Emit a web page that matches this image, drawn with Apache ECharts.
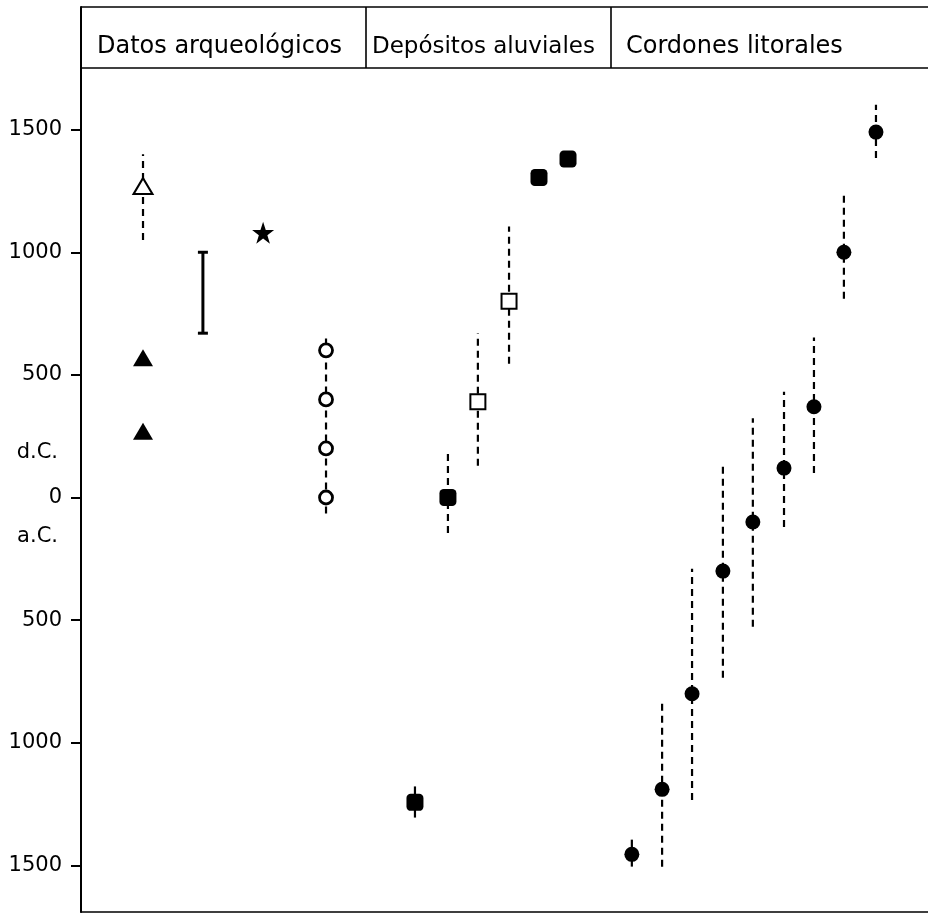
<!DOCTYPE html>
<html><head><meta charset="utf-8">
<script src="https://cdn.jsdelivr.net/npm/echarts@6/dist/echarts.min.js"></script>
<style>html,body{margin:0;padding:0;background:#fff}#c{width:928px;height:923px}</style>
</head><body><div id="c"></div>
<script>
// ---- data (x = column slot, y = year; negative = a.C.) ----
const headerLabels = ['Datos arqueológicos', 'Depósitos aluviales', 'Cordones litorales'];
const headerBounds = [0, 9.42, 17.52, 28.0];
const headerBottom = 1751;
const headerTop = 2000;
const yTickValues = [1500, 1000, 500, 0, -500, -1000, -1500];
const eraLabels = [{ value: 185, text: 'd.C.' }, { value: -161, text: 'a.C.' }];

const openTriangles = [[2.05, 1270]];
const filledTriangles = [[2.05, 570], [2.05, 270]];
const stars = [[6.02, 1080]];
const openCircles = [[8.1, 600], [8.1, 400], [8.1, 200], [8.1, 0]];
const filledSquares = [[11.04, -1243], [12.13, 0], [15.14, 1305], [16.1, 1380]];
const openSquares = [[13.12, 390], [14.15, 800]];
const filledCircles = [[18.21, -1455], [19.21, -1190], [20.2, -800], [21.22, -300], [22.21, -100],
  [23.24, 120], [24.23, 370], [25.22, 1000], [26.28, 1490]];
const dashedRanges = [[2.05, 1050, 1400], [8.1, -65, 665], [12.13, -145, 180], [13.12, 130, 670],
  [14.15, 545, 1105], [19.21, -1505, -826], [20.2, -1233, -290], [21.22, -735, 140],
  [22.21, -527, 323], [23.24, -120, 431], [24.23, 100, 652], [25.22, 810, 1245], [26.28, 1384, 1601]];
const solidRanges = [[11.04, -1305, -1178], [18.21, -1505, -1395]];
const cappedRanges = [[4.03, 670, 1000]];

const FONT = 'DejaVu Sans';
const chart = echarts.init(document.getElementById('c'));

function rangeRenderer(dashed, capped) {
  return function (params, api) {
    const x = api.value(0), lo = api.value(1), hi = api.value(2);
    const p1 = api.coord([x, lo]), p2 = api.coord([x, hi]);
    const st = { stroke: '#000', lineWidth: capped ? 3 : 2.2, lineDash: dashed ? [7, 5] : null };
    const children = [{ type: 'line', shape: { x1: p1[0], y1: p1[1], x2: p2[0], y2: p2[1] }, style: st }];
    if (capped) {
      children.push({ type: 'line', shape: { x1: p1[0] - 5, y1: p1[1], x2: p1[0] + 5, y2: p1[1] }, style: st });
      children.push({ type: 'line', shape: { x1: p2[0] - 5, y1: p2[1], x2: p2[0] + 5, y2: p2[1] }, style: st });
    }
    return { type: 'group', children };
  };
}

const headerAreas = headerLabels.map((name, i) => [
  { name, xAxis: headerBounds[i], yAxis: headerBottom,
    label: { distance: [16, 6, 15][i], fontSize: [24, 23, 24][i] } },
  { xAxis: headerBounds[i + 1], yAxis: headerTop }
]);
const headerLines = [
  [{ xAxis: headerBounds[0], yAxis: headerBottom }, { xAxis: headerBounds[3], yAxis: headerBottom }],
  [{ xAxis: headerBounds[0], yAxis: headerTop }, { xAxis: headerBounds[3], yAxis: headerTop }],
  [{ xAxis: headerBounds[1], yAxis: headerBottom }, { xAxis: headerBounds[1], yAxis: headerTop }],
  [{ xAxis: headerBounds[2], yAxis: headerBottom }, { xAxis: headerBounds[2], yAxis: headerTop }]
];

const starPath = 'path://M50,0 L61.8,35.3 L99,35.3 L69,57.3 L80.4,92.7 L50,70.8 L19.6,92.7 L31,57.3 L1,35.3 L38.2,35.3 Z';

const option = {
  animation: false,
  backgroundColor: '#fff',
  grid: { left: 81, right: 0, top: 7, bottom: 11 },
  xAxis: {
    type: 'value', min: 0, max: headerBounds[3],
    axisLine: { show: true, onZero: false, lineStyle: { color: '#000', width: 1.5 } },
    axisTick: { show: false }, axisLabel: { show: false }, splitLine: { show: false }
  },
  yAxis: {
    type: 'value', min: -1690, max: headerTop,
    axisLine: { show: true, lineStyle: { color: '#000', width: 2 } },
    axisTick: { show: true, inside: false, length: 10, customValues: yTickValues,
      lineStyle: { color: '#000', width: 2 } },
    axisLabel: {
      show: true, margin: 19, color: '#000', fontFamily: FONT, fontSize: 21,
      customValues: yTickValues.concat(eraLabels.map(e => e.value)),
      formatter: function (v) {
        const e = eraLabels.find(e => e.value === v);
        if (e) return '{era|' + e.text + '}';
        return String(Math.abs(v));
      },
      rich: { era: { fontFamily: FONT, fontSize: 21, color: '#000', padding: [0, 4, 0, 0] } }
    },
    splitLine: { show: false }
  },
  series: [
    { type: 'custom', renderItem: rangeRenderer(true, false), data: dashedRanges,
      encode: { x: 0, y: [1, 2] }, silent: true, z: 1,
      markArea: {
        silent: true,
        itemStyle: { color: 'rgba(0,0,0,0)', borderWidth: 0 },
        label: { show: true, position: 'insideLeft', offset: [0, 9], color: '#000',
          fontFamily: FONT, fontSize: 24 },
        data: headerAreas
      },
      markLine: {
        silent: true, symbol: 'none', label: { show: false },
        lineStyle: { color: '#000', width: 1.6, type: 'solid' },
        data: headerLines
      } },
    { type: 'custom', renderItem: rangeRenderer(false, false), data: solidRanges,
      encode: { x: 0, y: [1, 2] }, silent: true, z: 1 },
    { type: 'custom', renderItem: rangeRenderer(false, true), data: cappedRanges,
      encode: { x: 0, y: [1, 2] }, silent: true, z: 1 },
    { type: 'scatter', data: openTriangles, symbol: 'triangle', symbolSize: [19, 16], z: 3,
      itemStyle: { color: '#fff', borderColor: '#000', borderWidth: 2, opacity: 1 } },
    { type: 'scatter', data: filledTriangles, symbol: 'triangle', symbolSize: [20, 17], z: 3,
      itemStyle: { color: '#000', opacity: 1 } },
    { type: 'scatter', data: stars, symbol: starPath, symbolSize: 22, z: 3,
      itemStyle: { color: '#000', opacity: 1 } },
    { type: 'scatter', data: openCircles, symbol: 'circle', symbolSize: 13, z: 3,
      itemStyle: { color: '#fff', borderColor: '#000', borderWidth: 2.8, opacity: 1 } },
    { type: 'scatter', data: filledSquares, symbol: 'roundRect', symbolSize: 17, z: 3,
      itemStyle: { color: '#000', opacity: 1 } },
    { type: 'scatter', data: openSquares, symbol: 'rect', symbolSize: 15, z: 3,
      itemStyle: { color: '#fff', borderColor: '#000', borderWidth: 2, opacity: 1 } },
    { type: 'scatter', data: filledCircles, symbol: 'circle', symbolSize: 15, z: 3,
      itemStyle: { color: '#000', opacity: 1 } }
  ]
};
chart.setOption(option);
</script></body></html>
